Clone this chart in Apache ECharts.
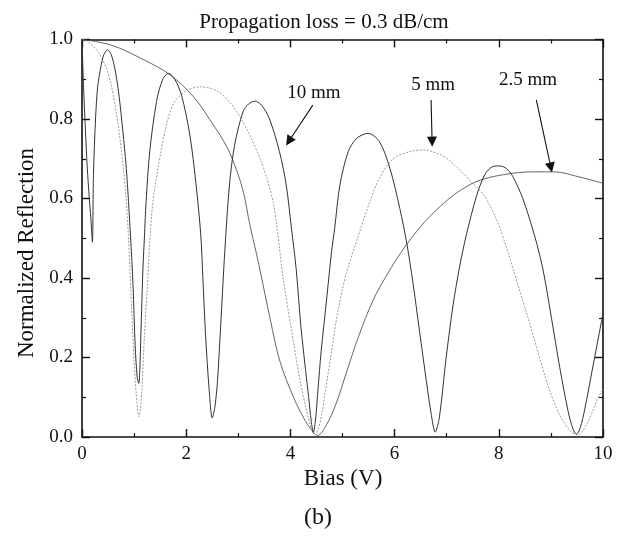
<!DOCTYPE html>
<html>
<head>
<meta charset="utf-8">
<script src="https://cdn.jsdelivr.net/npm/echarts@6.0.0/dist/echarts.min.js"></script>
<style>
  html, body { margin: 0; padding: 0; background: #fff; }
  #chart { width: 635px; height: 541px; }
</style>
</head>
<body>
<div id="chart"></div>
<script>
// Reflection vs. bias for three device lengths (propagation loss 0.3 dB/cm)

const bias10mm = [0, 0.03, 0.07, 0.10, 0.14, 0.17, 0.20, 0.22, 0.26, 0.30, 0.36, 0.42, 0.49, 0.56, 0.63, 0.70, 0.76, 0.85, 0.93, 0.98,
  1.02, 1.06, 1.09, 1.11, 1.13, 1.17, 1.20, 1.23, 1.30, 1.43, 1.55, 1.66, 1.78, 1.91, 2.07, 2.19, 2.28, 2.32, 2.37, 2.44,
  2.50, 2.55, 2.60, 2.67, 2.74, 2.83, 2.93, 3.09, 3.20, 3.32, 3.45, 3.60, 3.79, 3.92, 4.02, 4.11, 4.20, 4.29, 4.35, 4.40,
  4.44, 4.48, 4.53, 4.59, 4.69, 4.79, 4.85, 4.95, 5.11, 5.27, 5.49, 5.71, 5.91, 6.10, 6.23, 6.35, 6.48, 6.61, 6.70, 6.78,
  6.86, 6.99, 7.12, 7.25, 7.38, 7.57, 7.73, 7.88, 8.02, 8.15, 8.27, 8.46, 8.69, 8.85, 9.01, 9.17, 9.33, 9.42, 9.49, 9.56,
  9.65, 9.81, 9.97, 10];
const refl10mm = [1.0, 0.88, 0.76, 0.68, 0.60, 0.55, 0.49, 0.66, 0.80, 0.88, 0.93, 0.962, 0.974, 0.962, 0.927, 0.87, 0.80, 0.676, 0.508, 0.38,
  0.23, 0.15, 0.135, 0.17, 0.257, 0.425, 0.508, 0.592, 0.718, 0.844, 0.90, 0.915, 0.90, 0.86, 0.76, 0.634, 0.508, 0.40, 0.26, 0.12,
  0.048, 0.075, 0.14, 0.30, 0.466, 0.634, 0.735, 0.818, 0.838, 0.845, 0.834, 0.80, 0.718, 0.634, 0.525, 0.424, 0.28, 0.17, 0.10, 0.04,
  0.012, 0.04, 0.12, 0.215, 0.34, 0.466, 0.525, 0.634, 0.718, 0.751, 0.764, 0.743, 0.676, 0.575, 0.49, 0.39, 0.265, 0.14, 0.06, 0.012,
  0.05, 0.20, 0.33, 0.43, 0.51, 0.605, 0.66, 0.68, 0.682, 0.675, 0.655, 0.60, 0.505, 0.42, 0.30, 0.175, 0.065, 0.022, 0.007, 0.022,
  0.07, 0.18, 0.29, 0.31];

const bias5mm = [0, 0.10, 0.20, 0.32, 0.47, 0.56, 0.64, 0.72, 0.79, 0.84, 0.88, 0.92, 0.96, 1.00, 1.04, 1.09, 1.12, 1.15, 1.20, 1.25,
  1.30, 1.36, 1.46, 1.62, 1.78, 2.03, 2.29, 2.61, 2.85, 3.03, 3.20, 3.42, 3.55, 3.67, 3.75, 3.86, 4.02, 4.18, 4.34, 4.41,
  4.47, 4.53, 4.60, 4.66, 4.79, 4.91, 5.07, 5.30, 5.52, 5.71, 5.97, 6.29, 6.55, 6.90, 7.15, 7.47, 7.73, 7.98, 8.15, 8.37,
  8.56, 8.75, 8.94, 9.17, 9.39, 9.52, 9.71, 9.90, 10];
const refl5mm = [1.0, 0.995, 0.985, 0.967, 0.927, 0.886, 0.83, 0.76, 0.68, 0.61, 0.53, 0.42, 0.30, 0.19, 0.11, 0.051, 0.07, 0.12, 0.257, 0.37,
  0.49, 0.59, 0.676, 0.785, 0.844, 0.873, 0.881, 0.869, 0.84, 0.806, 0.765, 0.70, 0.65, 0.59, 0.52, 0.40, 0.27, 0.145, 0.05, 0.018,
  0.005, 0.018, 0.055, 0.106, 0.215, 0.315, 0.41, 0.505, 0.59, 0.651, 0.70, 0.718, 0.722, 0.709, 0.684, 0.642, 0.605, 0.54, 0.475, 0.382,
  0.30, 0.215, 0.131, 0.055, 0.013, 0.005, 0.038, 0.097, 0.12];

const bias2p5mm = [0, 0.56, 1.20, 1.69, 2.14, 2.46, 2.78, 2.97, 3.10, 3.22, 3.35, 3.42, 3.61, 3.80, 4.06, 4.28, 4.44, 4.52, 4.69, 4.88,
  5.07, 5.30, 5.59, 5.84, 6.10, 6.35, 6.64, 6.96, 7.28, 7.66, 8.24, 8.69, 9.07, 9.52, 9.90, 10];
const refl2p5mm = [1.0, 0.986, 0.948, 0.911, 0.856, 0.797, 0.73, 0.67, 0.615, 0.535, 0.46, 0.418, 0.298, 0.19, 0.10, 0.042, 0.012, 0.004, 0.03, 0.085,
  0.16, 0.25, 0.345, 0.405, 0.46, 0.505, 0.55, 0.59, 0.622, 0.647, 0.663, 0.667, 0.667, 0.655, 0.642, 0.638];

const xTicks = [0, 2, 4, 6, 8, 10];
const yTicks = [0.0, 0.2, 0.4, 0.6, 0.8, 1.0];

// Curve labels with their arrows, in (bias, reflection) units
const labels10mm = { text: '10 mm', at: [4.45, 0.865], from: [4.43, 0.835], to: [3.97, 0.744] };
const labels5mm = { text: '5 mm', at: [6.74, 0.886], from: [6.70, 0.848], to: [6.72, 0.743] };
const labels2p5mm = { text: '2.5 mm', at: [8.56, 0.898], from: [8.72, 0.848], to: [9.00, 0.678] };

const zip = (xs, ys) => xs.map((x, i) => [x, ys[i]]);

const SERIF = "'Liberation Serif', 'Times New Roman', serif";
const INK = '#111';

function arrowAndText(lbl) {
  return {
    markLine: {
      silent: true,
      animation: false,
      symbol: ['none', 'triangle'],
      symbolSize: 10,
      lineStyle: { color: INK, width: 1.1, type: 'solid' },
      itemStyle: { color: INK },
      label: { show: false },
      emphasis: { disabled: true },
      data: [[{ coord: lbl.from }, { coord: lbl.to }]]
    },
    markPoint: {
      silent: true,
      animation: false,
      symbol: 'circle',
      symbolSize: 1,
      itemStyle: { color: 'rgba(0,0,0,0)' },
      label: {
        show: true, position: 'inside', formatter: '{b}',
        color: INK, fontFamily: SERIF, fontSize: 19
      },
      data: [{ name: lbl.text, coord: lbl.at }]
    }
  };
}

function makeX(pos, showLabels) {
  return {
    type: 'value', min: 0, max: 10, interval: 2, position: pos,
    axisLine: { show: true, onZero: false, lineStyle: { color: INK, width: 1.6 } },
    axisTick: { show: true, inside: true, length: 8, lineStyle: { color: INK, width: 1.4 } },
    minorTick: { show: true, splitNumber: 2, length: 4, lineStyle: { color: INK, width: 1.2 } },
    axisLabel: {
      show: showLabels, color: INK, fontFamily: SERIF, fontSize: 19, margin: 8,
      formatter: v => (xTicks.includes(v) ? String(v) : '')
    },
    splitLine: { show: false }, minorSplitLine: { show: false }
  };
}

function makeY(pos, showLabels) {
  return {
    type: 'value', min: 0, max: 1, interval: 0.2, position: pos,
    axisLine: { show: true, onZero: false, lineStyle: { color: INK, width: 1.6 } },
    axisTick: { show: true, inside: true, length: 8, lineStyle: { color: INK, width: 1.4 } },
    minorTick: { show: true, splitNumber: 2, length: 4, lineStyle: { color: INK, width: 1.2 } },
    axisLabel: {
      show: showLabels, color: INK, fontFamily: SERIF, fontSize: 19, margin: 9,
      formatter: v => {
        const t = yTicks.find(k => Math.abs(k - v) < 1e-9);
        return t === undefined ? '' : t.toFixed(1);
      }
    },
    splitLine: { show: false }, minorSplitLine: { show: false }
  };
}

const chart = echarts.init(document.getElementById('chart'), null, { renderer: 'canvas' });

chart.setOption({
  animation: false,
  backgroundColor: '#fff',
  grid: { left: 82, right: 32, top: 39.5, bottom: 104, containLabel: false },
  xAxis: [makeX('bottom', true), makeX('top', false)],
  yAxis: [makeY('left', true), makeY('right', false)],
  graphic: [
    {
      type: 'text', x: 324, y: 22, silent: true,
      style: { text: 'Propagation loss = 0.3 dB/cm', fill: INK, font: '21px ' + SERIF,
        align: 'center', verticalAlign: 'middle' }
    },
    {
      type: 'text', x: 27, y: 253, rotation: Math.PI / 2, silent: true,
      style: { text: 'Normalized Reflection', fill: INK, font: '23px ' + SERIF,
        align: 'center', verticalAlign: 'middle' }
    },
    {
      type: 'text', x: 343, y: 479, silent: true,
      style: { text: 'Bias (V)', fill: INK, font: '23px ' + SERIF,
        align: 'center', verticalAlign: 'middle' }
    },
    {
      type: 'text', x: 318, y: 518, silent: true,
      style: { text: '(b)', fill: INK, font: '24px ' + SERIF,
        align: 'center', verticalAlign: 'middle' }
    }
  ],
  series: [
    Object.assign({
      type: 'line', name: '2.5 mm', xAxisIndex: 0, yAxisIndex: 0,
      data: zip(bias2p5mm, refl2p5mm),
      showSymbol: false, symbol: 'none', smooth: 0.35,
      lineStyle: { color: '#555555', width: 0.9 },
      emphasis: { disabled: true }, z: 2
    }, arrowAndText(labels2p5mm)),
    Object.assign({
      type: 'line', name: '5 mm', xAxisIndex: 0, yAxisIndex: 0,
      data: zip(bias5mm, refl5mm),
      showSymbol: false, symbol: 'none', smooth: 0.3,
      lineStyle: { color: '#9a9a9a', width: 1, type: [2, 1.5] },
      emphasis: { disabled: true }, z: 3
    }, arrowAndText(labels5mm)),
    Object.assign({
      type: 'line', name: '10 mm', xAxisIndex: 0, yAxisIndex: 0,
      data: zip(bias10mm, refl10mm),
      showSymbol: false, symbol: 'none', smooth: 0.3,
      lineStyle: { color: '#333333', width: 1.0 },
      emphasis: { disabled: true }, z: 4
    }, arrowAndText(labels10mm))
  ]
});
</script>
</body>
</html>
